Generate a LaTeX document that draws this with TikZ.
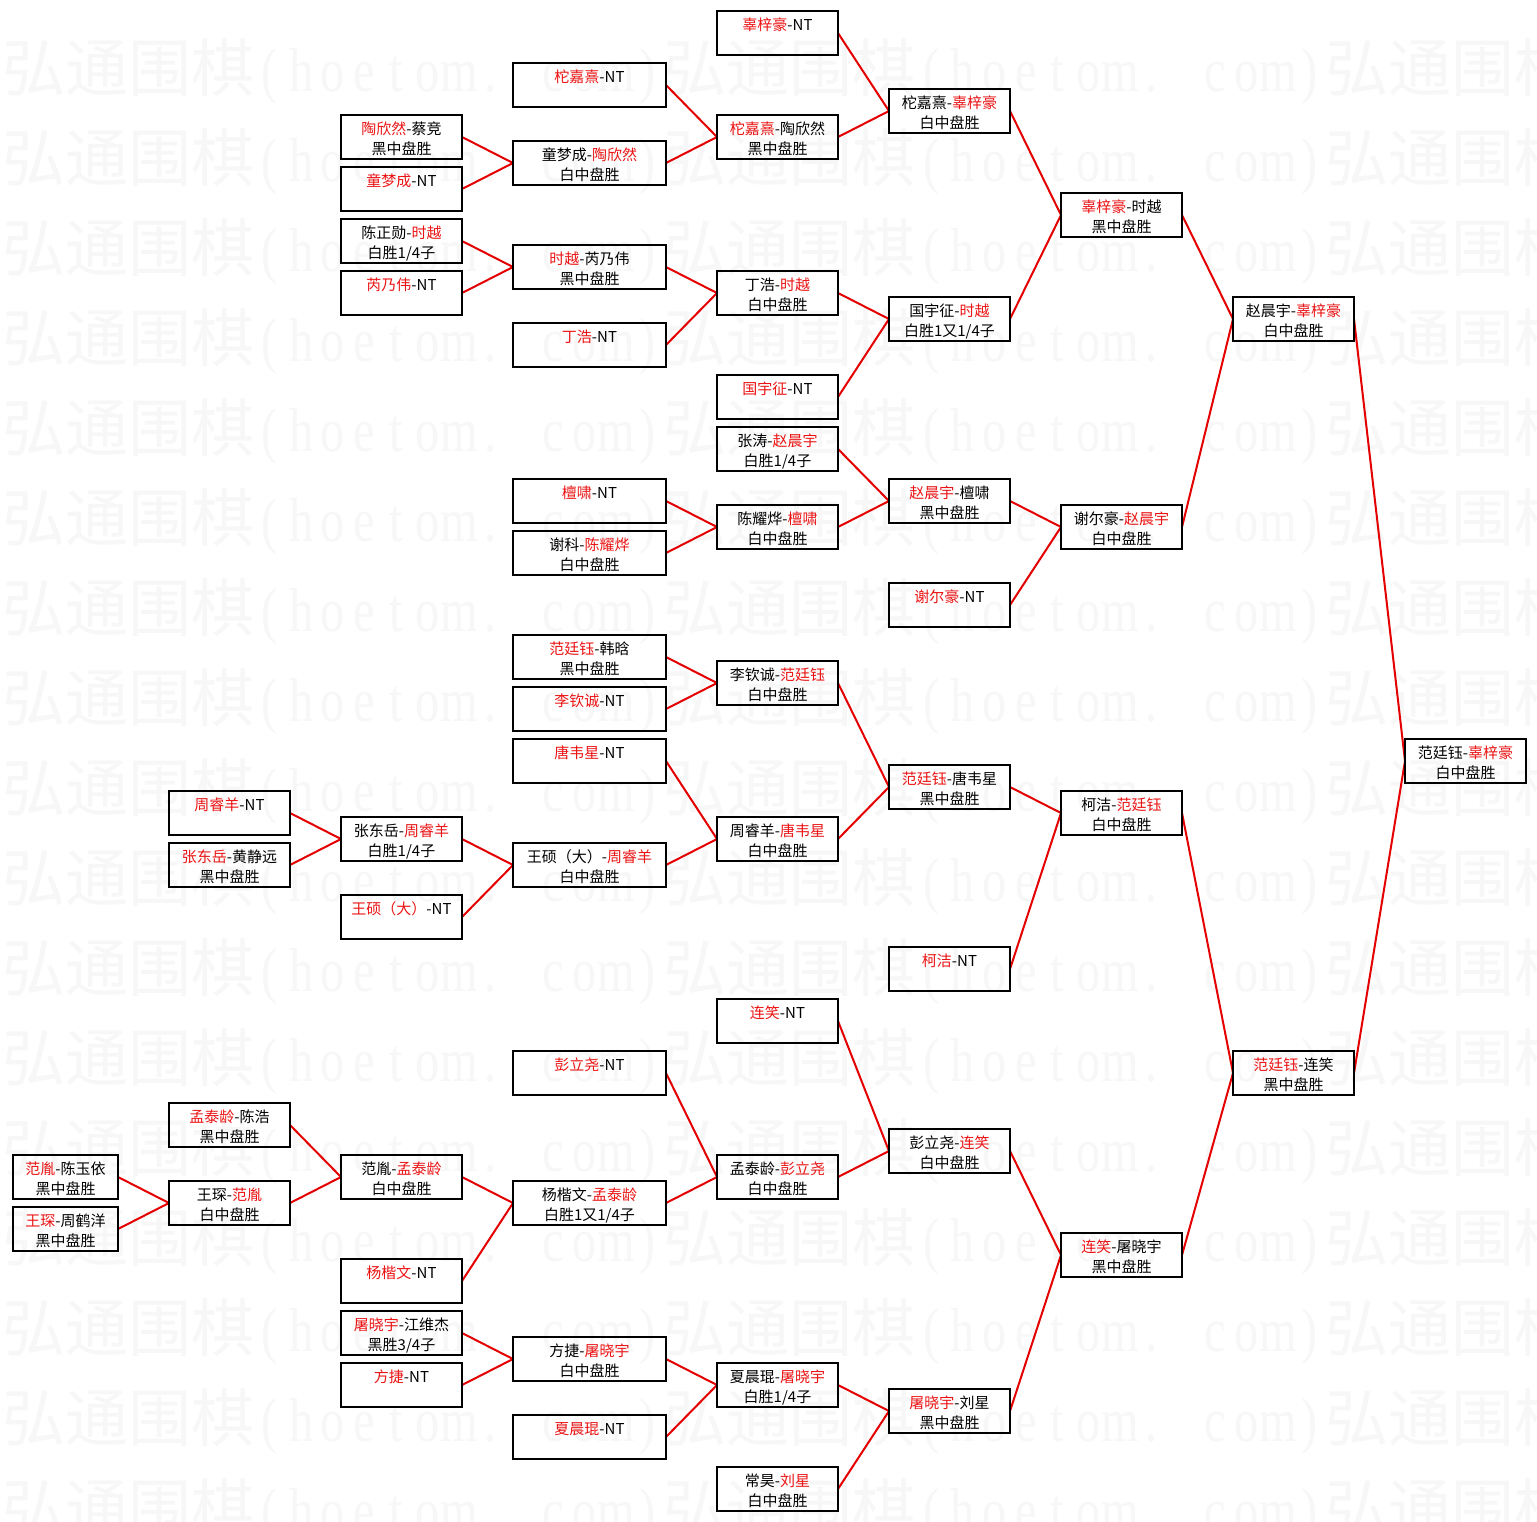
\documentclass[tikz,border=0pt]{standalone}
\usepackage{fontspec}
\usepackage{graphicx}
\newfontfamily\cjk{Noto Sans CJK SC}
\newfontfamily\wmlat{Liberation Serif}
\definecolor{winred}{RGB}{235,20,20}
\definecolor{linered}{RGB}{228,0,0}
\definecolor{wmgray}{RGB}{247,247,247}
\newcommand\R[1]{\textcolor{winred}{#1}}
\newcommand\wc[1]{\makebox[63pt]{#1}}
\newcommand\wl[1]{\makebox[31.5pt]{\scalebox{0.78}[1]{\wmlat\fontsize{62}{62}\selectfont #1}}}
\newcommand\wmtext{\wc{弘}\wc{通}\wc{围}\wc{棋}\wl{(}\wl{h}\wl{o}\wl{e}\wl{t}\wl{o}\wl{m}\wl{.}\wl{ }\wl{c}\wl{o}\wl{m}\wl{)}}
\newcommand\bx[6]{%
  \node[bx, minimum width={(#3-2)*1pt}] (#1) at ({#2+#3/2},{33+26*#4}) {};
  \node[tx] at ({#2+#3/2},{30+26*#4}) {#5};
  \node[tx] at ({#2+#3/2},{50+26*#4}) {#6};
}
\pgfdeclarelayer{wm}
\pgfdeclarelayer{bg}
\pgfsetlayers{wm,bg,main}
\begin{document}
\begin{tikzpicture}[x=1pt,y=-1pt,
  bx/.style={draw=black, line width=2pt, rectangle, inner sep=0pt, outer sep=0pt, minimum height=44pt},
  tx/.style={anchor=base, inner sep=0pt, font=\cjk\fontsize{15}{15}\selectfont},
  wmk/.style={anchor=base west, inner sep=0pt, text=wmgray, font=\cjk\fontsize{63}{63}\selectfont},
  cn/.style={draw=linered, line width=2pt}]
\begin{pgfonlayer}{wm}
\fill[white] (0,0) rectangle (1537,1521);
\begin{scope}
\clip (0,0) rectangle (1537,1521);
\foreach \r in {0,...,16} {
  \foreach \c in {0,1,2} {
    \node[wmk] (wm-\r-\c) at ({2+661.5*\c},{91.5+90*\r}) {\wmtext};
  }
}
\end{scope}
\end{pgfonlayer}
\useasboundingbox (0,0) rectangle (1537,1521);
% column 0
\bx{c0k44}{12}{107}{44}{\R{范胤}-陈玉依}{黑中盘胜}
\bx{c0k46}{12}{107}{46}{\R{王琛}-周鹤洋}{黑中盘胜}
% column 1
\bx{c1k30}{168}{123}{30}{\R{周睿羊}-NT}{}
\bx{c1k32}{168}{123}{32}{\R{张东岳}-黄静远}{黑中盘胜}
\bx{c1k42}{168}{123}{42}{\R{孟泰龄}-陈浩}{黑中盘胜}
\bx{c1k45}{168}{123}{45}{王琛-\R{范胤}}{白中盘胜}
% column 2
\bx{c2k4}{340}{123}{4}{\R{陶欣然}-蔡竞}{黑中盘胜}
\bx{c2k6}{340}{123}{6}{\R{童梦成}-NT}{}
\bx{c2k8}{340}{123}{8}{陈正勋-\R{时越}}{白胜1/4子}
\bx{c2k10}{340}{123}{10}{\R{芮乃伟}-NT}{}
\bx{c2k31}{340}{123}{31}{张东岳-\R{周睿羊}}{白胜1/4子}
\bx{c2k34}{340}{123}{34}{\R{王硕（大）}-NT}{}
\bx{c2k44}{340}{123}{44}{范胤-\R{孟泰龄}}{白中盘胜}
\bx{c2k48}{340}{123}{48}{\R{杨楷文}-NT}{}
\bx{c2k50}{340}{123}{50}{\R{屠晓宇}-江维杰}{黑胜3/4子}
\bx{c2k52}{340}{123}{52}{\R{方捷}-NT}{}
% column 3
\bx{c3k2}{512}{155}{2}{\R{柁嘉熹}-NT}{}
\bx{c3k5}{512}{155}{5}{童梦成-\R{陶欣然}}{白中盘胜}
\bx{c3k9}{512}{155}{9}{\R{时越}-芮乃伟}{黑中盘胜}
\bx{c3k12}{512}{155}{12}{\R{丁浩}-NT}{}
\bx{c3k18}{512}{155}{18}{\R{檀啸}-NT}{}
\bx{c3k20}{512}{155}{20}{谢科-\R{陈耀烨}}{白中盘胜}
\bx{c3k24}{512}{155}{24}{\R{范廷钰}-韩晗}{黑中盘胜}
\bx{c3k26}{512}{155}{26}{\R{李钦诚}-NT}{}
\bx{c3k28}{512}{155}{28}{\R{唐韦星}-NT}{}
\bx{c3k32}{512}{155}{32}{王硕（大）-\R{周睿羊}}{白中盘胜}
\bx{c3k40}{512}{155}{40}{\R{彭立尧}-NT}{}
\bx{c3k45}{512}{155}{45}{杨楷文-\R{孟泰龄}}{白胜1又1/4子}
\bx{c3k51}{512}{155}{51}{方捷-\R{屠晓宇}}{白中盘胜}
\bx{c3k54}{512}{155}{54}{\R{夏晨琨}-NT}{}
% column 4
\bx{c4k0}{716}{123}{0}{\R{辜梓豪}-NT}{}
\bx{c4k4}{716}{123}{4}{\R{柁嘉熹}-陶欣然}{黑中盘胜}
\bx{c4k10}{716}{123}{10}{丁浩-\R{时越}}{白中盘胜}
\bx{c4k14}{716}{123}{14}{\R{国宇征}-NT}{}
\bx{c4k16}{716}{123}{16}{张涛-\R{赵晨宇}}{白胜1/4子}
\bx{c4k19}{716}{123}{19}{陈耀烨-\R{檀啸}}{白中盘胜}
\bx{c4k25}{716}{123}{25}{李钦诚-\R{范廷钰}}{白中盘胜}
\bx{c4k31}{716}{123}{31}{周睿羊-\R{唐韦星}}{白中盘胜}
\bx{c4k38}{716}{123}{38}{\R{连笑}-NT}{}
\bx{c4k44}{716}{123}{44}{孟泰龄-\R{彭立尧}}{白中盘胜}
\bx{c4k52}{716}{123}{52}{夏晨琨-\R{屠晓宇}}{白胜1/4子}
\bx{c4k56}{716}{123}{56}{常昊-\R{刘星}}{白中盘胜}
% column 5
\bx{c5k3}{888}{123}{3}{柁嘉熹-\R{辜梓豪}}{白中盘胜}
\bx{c5k11}{888}{123}{11}{国宇征-\R{时越}}{白胜1又1/4子}
\bx{c5k18}{888}{123}{18}{\R{赵晨宇}-檀啸}{黑中盘胜}
\bx{c5k22}{888}{123}{22}{\R{谢尔豪}-NT}{}
\bx{c5k29}{888}{123}{29}{\R{范廷钰}-唐韦星}{黑中盘胜}
\bx{c5k36}{888}{123}{36}{\R{柯洁}-NT}{}
\bx{c5k43}{888}{123}{43}{彭立尧-\R{连笑}}{白中盘胜}
\bx{c5k53}{888}{123}{53}{\R{屠晓宇}-刘星}{黑中盘胜}
% column 6
\bx{c6k7}{1060}{123}{7}{\R{辜梓豪}-时越}{黑中盘胜}
\bx{c6k19}{1060}{123}{19}{谢尔豪-\R{赵晨宇}}{白中盘胜}
\bx{c6k30}{1060}{123}{30}{柯洁-\R{范廷钰}}{白中盘胜}
\bx{c6k47}{1060}{123}{47}{\R{连笑}-屠晓宇}{黑中盘胜}
% column 7
\bx{c7k11}{1232}{123}{11}{赵晨宇-\R{辜梓豪}}{白中盘胜}
\bx{c7k40}{1232}{123}{40}{\R{范廷钰}-连笑}{黑中盘胜}
% column 8
\bx{c8k28}{1404}{123}{28}{范廷钰-\R{辜梓豪}}{白中盘胜}
% connectors
\begin{pgfonlayer}{bg}
\foreach \a/\p in {c2k4/c3k5, c2k6/c3k5, c2k8/c3k9, c2k10/c3k9,
  c3k2/c4k4, c3k5/c4k4, c3k9/c4k10, c3k12/c4k10,
  c4k0/c5k3, c4k4/c5k3, c4k10/c5k11, c4k14/c5k11,
  c5k3/c6k7, c5k11/c6k7,
  c3k18/c4k19, c3k20/c4k19, c4k16/c5k18, c4k19/c5k18,
  c5k18/c6k19, c5k22/c6k19, c6k7/c7k11, c6k19/c7k11,
  c3k24/c4k25, c3k26/c4k25, c1k30/c2k31, c1k32/c2k31,
  c2k31/c3k32, c2k34/c3k32, c3k28/c4k31, c3k32/c4k31,
  c4k25/c5k29, c4k31/c5k29, c5k29/c6k30, c5k36/c6k30,
  c0k44/c1k45, c0k46/c1k45, c1k42/c2k44, c1k45/c2k44,
  c2k44/c3k45, c2k48/c3k45, c3k40/c4k44, c3k45/c4k44,
  c4k38/c5k43, c4k44/c5k43, c2k50/c3k51, c2k52/c3k51,
  c3k51/c4k52, c3k54/c4k52, c4k52/c5k53, c4k56/c5k53,
  c5k43/c6k47, c5k53/c6k47, c6k30/c7k40, c6k47/c7k40,
  c7k11/c8k28, c7k40/c8k28}
  \draw[cn] (\a.east) -- (\p.west);
\end{pgfonlayer}
\end{tikzpicture}
\end{document}
